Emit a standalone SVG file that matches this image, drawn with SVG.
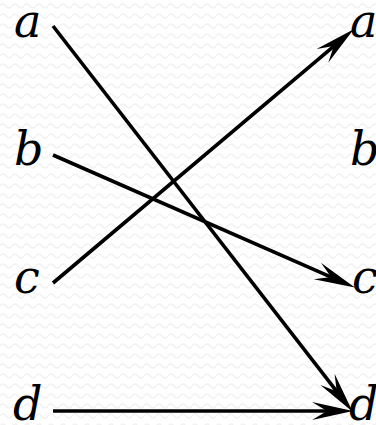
<svg xmlns="http://www.w3.org/2000/svg" width="376" height="425" viewBox="0 0 376 425">
<style>
.lbl{font-family:"DejaVu Serif","Liberation Serif",serif;font-style:italic;font-size:46px;fill:#000}
.edge{stroke:#000;stroke-width:3.6;fill:none;marker-end:url(#arr)}
</style>
<defs>
<pattern id="bg" width="12" height="10" patternUnits="userSpaceOnUse">
<path d="M0,6 Q3,2 6,6 T12,6" stroke="#f2f2f2" stroke-width="1.5" fill="none"/>
</pattern>
<marker id="arr" viewBox="0 0 42 22" refX="17" refY="11" markerWidth="42" markerHeight="22" markerUnits="userSpaceOnUse" orient="auto">
<path d="M41,11 L0,2 L15,11 L0,20 Z" fill="#000"/>
</marker>
</defs>
<rect width="376" height="425" fill="#fff"/>
<rect width="376" height="425" fill="url(#bg)"/>
<g id="connectors">
<path class="edge" d="M53,26 L337.9,392.8"/>
<path class="edge" d="M53,155 L332.9,277.8"/>
<path class="edge" d="M53,283 L335.4,44.8"/>
<path class="edge" d="M53,411 L329,411"/>
</g>
<g id="left-a"><text class="lbl" x="14" y="37">a</text></g>
<g id="left-b"><text class="lbl" x="14" y="165">b</text></g>
<g id="left-c"><text class="lbl" x="14" y="293">c</text></g>
<g id="left-d"><text class="lbl" x="13" y="420">d</text></g>
<g id="right-a"><text class="lbl" x="350" y="37">a</text></g>
<g id="right-b"><text class="lbl" x="350" y="165">b</text></g>
<g id="right-c"><text class="lbl" x="352" y="293">c</text></g>
<g id="right-d"><text class="lbl" x="349" y="420">d</text></g>
</svg>
